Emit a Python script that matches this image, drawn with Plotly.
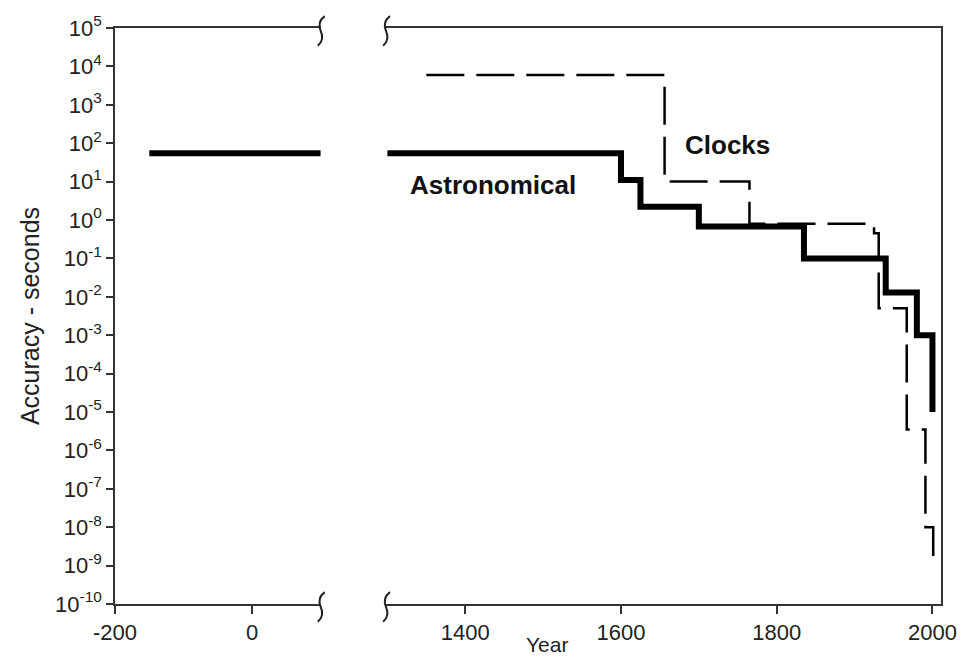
import plotly.graph_objects as go

# ---- data ----
astro_left_years = [-150, 100]
astro_left_vals = [55, 55]
astro_years = [1300, 1600, 1625, 1700, 1835, 1940, 1980, 2000]
astro_vals = [55, 11, 2.2, 0.68, 0.1, 0.013, 0.001, 1e-5]
clock_years = [1350, 1656, 1765, 1925, 1931, 1967, 1991, 2001]
clock_vals = [6000, 10, 0.8, 0.45, 0.005, 3.5e-6, 1e-8, 1e-9]
y_exponents = list(range(-10, 6))
left_xticks = [-200, 0]
left_xticklabels = ["-200", "0"]
right_xticks = [1400, 1600, 1800, 2000]
right_xticklabels = ["1400", "1600", "1800", "2000"]

W, H = 969, 657
ML, MR, MT, MB = 115, 19, 25, 51
PW, PH = W - ML - MR, H - MT - MB

def px(x):
    return (x - ML) / PW

def py(y):
    return 1 - (y - MT) / PH

FONT = "Liberation Sans, Arial, sans-serif"
AX = "#333333"

fig = go.Figure()
fig.add_trace(go.Scatter(x=astro_left_years, y=astro_left_vals, mode="lines",
                         line=dict(color="black", width=6), xaxis="x", yaxis="y",
                         showlegend=False, hoverinfo="skip"))
fig.add_trace(go.Scatter(x=astro_years, y=astro_vals, mode="lines", line_shape="hv",
                         line=dict(color="black", width=6), xaxis="x2", yaxis="y2",
                         showlegend=False))
fig.add_trace(go.Scatter(x=clock_years, y=clock_vals, mode="lines", line_shape="hv",
                         line=dict(color="black", width=2.5, dash="38px,12px"),
                         xaxis="x2", yaxis="y2", showlegend=False))

ticktext = [f"10<sup>{e}</sup>" for e in y_exponents]
tickvals = [10 ** e for e in y_exponents]

fig.update_layout(
    width=W, height=H,
    margin=dict(l=ML, r=MR, t=MT, b=MB),
    paper_bgcolor="white", plot_bgcolor="white",
    font=dict(family=FONT, color="#222", size=22),
    xaxis=dict(domain=[0, (323 - ML) / PW], range=[-200, 100], anchor="y",
               showline=True, linecolor=AX, linewidth=1.5, mirror=True,
               ticks="outside", ticklen=8, tickcolor=AX, tickwidth=1.5,
               tickvals=left_xticks, ticktext=left_xticklabels,
               showgrid=False, zeroline=False, tickfont=dict(size=22)),
    xaxis2=dict(domain=[(388 - ML) / PW, 1], range=[1297, 2011], anchor="y2",
                showline=True, linecolor=AX, linewidth=1.5, mirror=True,
                ticks="outside", ticklen=8, tickcolor=AX, tickwidth=1.5,
                tickvals=right_xticks, ticktext=right_xticklabels,
                showgrid=False, zeroline=False, tickfont=dict(size=22)),
    yaxis=dict(type="log", range=[-10, 5], anchor="x", showline=True,
               linecolor=AX, linewidth=1.5, ticks="outside", ticklen=7,
               tickcolor=AX, tickwidth=1.5, tickvals=tickvals, ticktext=ticktext,
               showgrid=False, zeroline=False, tickfont=dict(size=22),
               title=dict(text="Accuracy - seconds", font=dict(size=25), standoff=8)),
    yaxis2=dict(type="log", range=[-10, 5], anchor="x2", side="right",
                showline=True, linecolor=AX, linewidth=1.5, ticks="",
                showticklabels=False, showgrid=False, zeroline=False),
)

fig.add_annotation(x=1505, y=py(647), xref="x2", yref="paper", text="Year",
                   showarrow=False, font=dict(size=21), yanchor="middle")
fig.add_annotation(x=1737, y=1.95, xref="x2", yref="y2", text="<b>Clocks</b>",
                   showarrow=False, font=dict(size=26, color="#111"))
fig.add_annotation(x=1435, y=0.92, xref="x2", yref="y2", text="<b>Astronomical</b>",
                   showarrow=False, font=dict(size=26, color="#111"))

# axis-break marks
def brk(x0, y0):
    pts = [(x0 + 4, y0 - 15), (x0 - 4, y0 - 9), (x0, y0), (x0 + 4, y0 + 9), (x0 - 3, y0 + 15)]
    p = lambda q: f"{px(q[0]):.5f},{py(q[1]):.5f}"
    return (f"M{p(pts[0])} Q{p(pts[1])} {p(pts[2])} Q{p(pts[3])} {p(pts[4])}")

shapes = []
for bx in (323, 389):
    for by in (MT + 3, H - MB + 3):
        shapes.append(dict(type="path", xref="paper", yref="paper", path=brk(bx, by),
                           line=dict(color="#222", width=2)))
fig.update_layout(shapes=shapes)

fig.write_html("out.html")
